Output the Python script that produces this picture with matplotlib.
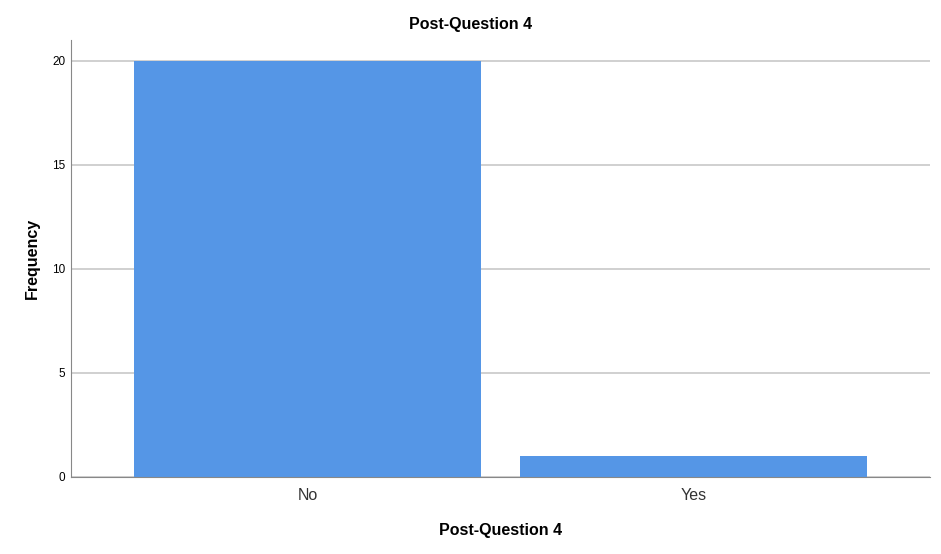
import numpy as np
import matplotlib
matplotlib.use('Agg')
import matplotlib.pyplot as plt

plt.rcParams['font.family'] = ['Liberation Sans', 'DejaVu Sans']

# Data
categories = ['No', 'Yes']
frequency = [20, 1]

fig = plt.figure(figsize=(9.41, 5.54), dpi=100)
ax = fig.add_axes([0.0755, 0.139, 0.9128, 0.789])

x = np.arange(len(categories))
ax.bar(x, frequency, width=0.898, color='#5596e6', zorder=2)

ax.set_xlim(-0.612, 1.611)
ax.set_ylim(0, 21)
ax.set_yticks([0, 5, 10, 15, 20])
ax.yaxis.grid(True, color='#c8c8c8', linewidth=1.2, zorder=0)

ax.set_xticks(x)
ax.set_xticklabels(categories, fontsize=11.5, color='#333333')
ax.tick_params(axis='y', labelsize=8.5, length=0, pad=4)
ax.tick_params(axis='x', length=0, pad=8)

for s in ['top', 'right']:
    ax.spines[s].set_visible(False)
ax.spines['left'].set_color('#888888')
ax.spines['bottom'].set_color('#888888')

# title is centred on the whole figure
fig.text(0.5, 1 - 25 / 554, 'Post-Question 4', fontsize=11.5, fontweight='bold',
         ha='center', va='center')
ax.set_xlabel('Post-Question 4', fontsize=11.5, fontweight='bold', labelpad=14)
ax.set_ylabel('Frequency', fontsize=11.5, fontweight='bold', labelpad=9)

fig.savefig('out.png', dpi=100)
